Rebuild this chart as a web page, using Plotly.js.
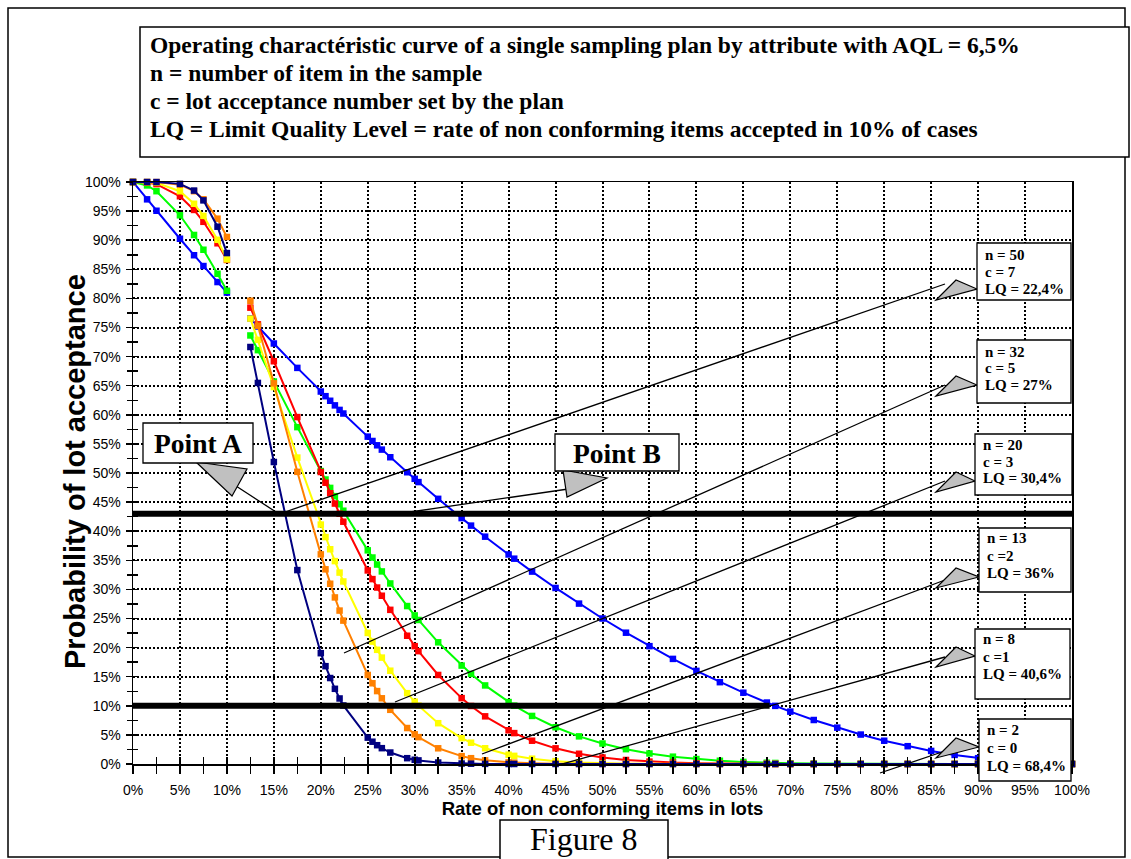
<!DOCTYPE html>
<html><head><meta charset="utf-8">
<script src="https://cdn.plot.ly/plotly-3.0.1.min.js"></script>
<style>html,body{margin:0;padding:0;background:#fff}#chart{width:1131px;height:859px}</style>
</head><body><div id="chart"></div>
<script>
// Rate of non conforming items in lots (%) – x values (11 is an empty row: gap in the curves)
const rates = [0,1.5,2.5,5,6.5,7.5,9,10,11,12.5,13.3,15,17.5,20,20.5,21,21.5,22,22.4,25,25.5,26,26.5,27.4,29.2,30,30.4,32.5,35,36,37.5,40,40.6,42.5,45,47.5,50,52.5,55,57.5,60,62.5,65,67.5,68.4,70,72.5,75,77.5,80,82.5,85,87.5,90,92.5,95,97.5,100];

// Probability of lot acceptance (%) for each plan
const planN2C0 = [100,97.02,95.06,90.25,87.42,85.56,82.81,81,null,76.56,75.17,72.25,68.06,64,63.2,62.41,61.62,60.84,60.22,56.25,55.5,54.76,54.02,52.71,50.13,49,48.44,45.56,42.25,40.96,39.06,36,35.28,33.06,30.25,27.56,25,22.56,20.25,18.06,16,14.06,12.25,10.56,9.99,9,7.56,6.25,5.06,4,3.06,2.25,1.56,1,0.56,0.25,0.06,0];
const planN8C1 = [100,99.41,98.42,94.28,90.9,88.36,84.23,81.31,null,73.63,71.11,65.72,57.88,50.33,48.88,47.44,46.02,44.62,43.52,36.71,35.48,34.27,33.09,31.02,27.14,25.53,24.75,20.91,16.91,15.48,13.5,10.64,10.03,8.26,6.32,4.75,3.52,2.55,1.81,1.26,0.85,0.56,0.36,0.22,0.18,0.13,0.07,0.04,0.02,0.01,0,0,0,0,0,0,0,0];
const planN13C2 = [100,99.91,99.63,97.55,95.2,93.16,89.47,86.61,null,78.41,75.54,69.2,59.61,50.17,48.33,46.53,44.75,43.0,41.63,33.26,31.77,30.32,28.91,26.49,22.04,20.25,19.39,15.3,11.32,9.97,8.19,5.79,5.31,4.0,2.69,1.76,1.12,0.69,0.41,0.24,0.13,0.07,0.03,0.02,0.01,0.01,0,0,0,0,0,0,0,0,0,0,0,0];
const planN20C3 = [100,99.98,99.86,98.41,96.26,94.18,90.07,86.7,null,76.53,72.88,64.77,52.65,41.14,38.99,36.9,34.86,32.89,31.36,22.52,21.03,19.62,18.28,16.03,12.17,10.71,10.03,7.01,4.44,3.66,2.71,1.6,1.4,0.91,0.49,0.26,0.13,0.06,0.03,0.01,0,0,0,0,0,0,0,0,0,0,0,0,0,0,0,0,0,0];
const planN32C5 = [100,100,99.99,99.54,98.42,97.03,93.7,90.56,null,79.6,75.31,65.41,50.2,36.02,33.45,30.97,28.62,26.36,24.64,15.3,13.87,12.53,11.29,9.31,6.18,5.1,4.62,2.7,1.35,1.0,0.63,0.28,0.23,0.12,0.04,0.01,0,0,0,0,0,0,0,0,0,0,0,0,0,0,0,0,0,0,0,0,0,0];
const planN50C7 = [100,100,99.99,99.68,98.53,96.84,92.32,87.79,null,71.65,65.48,51.89,33.32,19.04,16.81,14.77,12.92,11.26,10.06,4.53,3.83,3.23,2.72,1.97,1.0,0.73,0.62,0.25,0.08,0.05,0.02,0,0,0,0,0,0,0,0,0,0,0,0,0,0,0,0,0,0,0,0,0,0,0,0,0,0,0];

// Reference levels (Point A / Point B level, and 10% LQ level)
const pointLevelX = [0, 100];
const pointLevelY = [43, 43];
const lqLevelX = [0, 67.8];
const lqLevelY = [10, 10];

// Tick labels
const pctTicks = [0,5,10,15,20,25,30,35,40,45,50,55,60,65,70,75,80,85,90,95,100];
const pctLabels = pctTicks.map(v => v + '%');

// Plan labels
const planLabels = [
  ['n = 50','c = 7','LQ = 22,4%'],
  ['n = 32','c = 5','LQ = 27%'],
  ['n = 20','c = 3','LQ = 30,4%'],
  ['n = 13','c =2','LQ = 36%'],
  ['n = 8','c =1','LQ = 40,6%'],
  ['n = 2','c = 0','LQ = 68,4%']
];
const headerLines = [
  'Operating charactéristic curve of a single sampling plan by attribute with AQL = 6,5%',
  'n = number of item in the sample',
  'c = lot acceptance number set by the plan',
  'LQ = Limit Quality Level = rate of non conforming items accepted in 10% of cases'
];
const yTitle = 'Probability of lot acceptance';
const xTitle = 'Rate of non conforming items in lots';

// ---- geometry helpers (pixel -> paper) ----
const L=133, R=1072, T=182, B=764;
const px = x => (x - L) / (R - L);
const py = y => (B - y) / (B - T);

const serif = 'Liberation Serif, Times New Roman, serif';
const sans = 'Liberation Sans, Arial, sans-serif';

const series = [
  {y: planN2C0, c: '#0000FF', name: 'n=2 c=0'},
  {y: planN8C1, c: '#00FF00', name: 'n=8 c=1'},
  {y: planN13C2, c: '#FF0000', name: 'n=13 c=2'},
  {y: planN20C3, c: '#FFFF00', name: 'n=20 c=3'},
  {y: planN32C5, c: '#FF8000', name: 'n=32 c=5'},
  {y: planN50C7, c: '#000080', name: 'n=50 c=7'}
];

const traces = series.map(s => ({
  type: 'scatter', mode: 'lines+markers', name: s.name,
  x: rates, y: s.y, connectgaps: false, cliponaxis: false,
  line: {color: s.c, width: 2},
  marker: {symbol: 'square', size: 6.5, color: s.c, line: {width: 0}},
  hoverinfo: 'x+y'
}));
traces.push({type:'scatter', mode:'lines', x: pointLevelX, y: pointLevelY, xaxis:'x2', yaxis:'y2',
  line:{color:'#000', width:6}, hoverinfo:'skip', cliponaxis:false});
traces.push({type:'scatter', mode:'lines', x: lqLevelX, y: lqLevelY, xaxis:'x2', yaxis:'y2',
  line:{color:'#000', width:6}, hoverinfo:'skip', cliponaxis:false});

const shapes = [];
const annotations = [];
function rect(x0,y0,x1,y1,opt){ shapes.push(Object.assign({type:'rect', xref:'paper', yref:'paper',
  x0:px(x0), y0:py(y0), x1:px(x1), y1:py(y1), line:{color:'#000', width:1.3}, fillcolor:'#fff', layer:'above'}, opt||{})); }
function seg(x0,y0,x1,y1,w){ shapes.push({type:'line', xref:'paper', yref:'paper',
  x0:px(x0), y0:py(y0), x1:px(x1), y1:py(y1), line:{color:'#000', width:w||1.3}, layer:'above'}); }
function tri(pts){ shapes.push({type:'path', xref:'paper', yref:'paper', layer:'above',
  path: 'M' + pts.map(p => px(p[0]) + ',' + py(p[1])).join(' L') + ' Z',
  fillcolor:'#C0C0C0', line:{color:'#000', width:1.2}}); }
function txt(x,y,t,size,font,opt){ annotations.push(Object.assign({xref:'paper', yref:'paper', x:px(x), y:py(y),
  text:t, showarrow:false, xanchor:'left', yanchor:'middle', font:{family:font, size:size, color:'#000'}}, opt||{})); }

// outer frame
rect(8, 8, 1125, 857, {fillcolor:'rgba(0,0,0,0)', line:{color:'#000', width:1.5}, layer:'below'});
// header box
rect(140, 27, 1129, 157, {line:{color:'#000', width:1.5}});
const headerY = [45, 73, 101, 129];
headerLines.forEach((t,i) => txt(148, headerY[i], '<b>' + t + '</b>', 23.5, serif));

// y axis title (rotated)
txt(75, 472, '<b>' + yTitle + '</b>', 29, sans, {xanchor:'center', textangle:-90});

// callout lines
seg(410,512, 582,487);   // Point B
seg(276,512, 236,486);   // Point A
seg(285,512, 945,284);   // n=50
seg(344,653, 945,385);   // n=32
seg(395,702, 945,481);   // n=20
seg(482,754, 945,580);   // n=13
seg(555,766, 945,657);   // n=8
seg(880,773, 945,751);   // n=2

// plan boxes
const boxes = [
  [977,243,1071,300, 983, [255,272,289]],
  [977,340,1071,403, 983, [352,368,385]],
  [975,434,1072,495, 981, [445,462,478]],
  [979,528,1071,592, 985, [538,556,573]],
  [975,629,1070,699, 981, [639,657,674]],
  [979,719,1071,781, 985, [730,748,766]]
];
const triY = [289, 385, 481, 577, 656, 747];
boxes.forEach((b,i) => {
  const ty = triY[i];
  tri([[936, ty+11], [956, ty-9], [b[0], ty]]);
  rect(b[0], b[1], b[2], b[3]);
  planLabels[i].forEach((t,j) => txt(b[4], b[5][j], '<b>' + t + '</b>', 15, serif));
});

// Point A / Point B
tri([[196,462],[247,469],[232,496]]);
rect(143, 423, 253, 463);
txt(198, 443, '<b>Point A</b>', 27.5, serif, {xanchor:'center'});
tri([[563,470],[607,478],[567,497]]);
rect(555, 434, 679, 471);
txt(617, 453, '<b>Point B</b>', 27.5, serif, {xanchor:'center'});

// Figure 8 box
rect(500, 820, 668, 880, {line:{color:'#000', width:1.5}});
txt(584, 858.5, 'Figure 8', 32, serif, {xanchor:'center', yanchor:'bottom'});

const axCommon = {
  range:[0,100], autorange:false, fixedrange:true, zeroline:false,
  tickmode:'array', tickvals: pctTicks, ticktext: pctLabels,
  tickfont:{family:sans, size:14, color:'#000'}, tickcolor:'#000'
};

const layout = {
  width:1131, height:859,
  margin:{l:L, r:1131-R, t:T, b:859-B, pad:0},
  paper_bgcolor:'#fff', plot_bgcolor:'#fff',
  showlegend:false,
  xaxis: Object.assign({}, axCommon, {
    showline:true, linecolor:'#000', linewidth:1.5, mirror:true,
    showgrid:true, gridcolor:'#000', gridwidth:2, griddash:'2px,2px',
    ticks:'outside', ticklen:8, tickwidth:2, ticklabelstandoff:5,
    minor:{dtick:2.5, tick0:0, ticks:'outside', ticklen:8, tickwidth:1.5, tickcolor:'#000', showgrid:false},
    title:{text:'<b>' + xTitle + '</b>', font:{family:sans, size:18.5, color:'#000'}, standoff:0}
  }),
  yaxis: Object.assign({}, axCommon, {
    showline:true, linecolor:'#000', linewidth:1.5, mirror:true,
    showgrid:true, gridcolor:'#000', gridwidth:2, griddash:'2px,2px',
    ticks:'outside', ticklen:6, tickwidth:1.5, ticklabelstandoff:2,
    minor:{dtick:2.5, tick0:0, ticks:'outside', ticklen:5, tickwidth:1.5, tickcolor:'#000', showgrid:false}
  }),
  xaxis2: {overlaying:'x', anchor:'y2', side:'bottom', range:[0,100], autorange:false, fixedrange:true,
    showgrid:false, zeroline:false, showline:false, showticklabels:false,
    tickmode:'linear', tick0:0, dtick:5, ticks:'inside', ticklen:7, tickwidth:2, tickcolor:'#000',
    minor:{dtick:2.5, tick0:0, ticks:'inside', ticklen:7, tickwidth:1.5, tickcolor:'#000'}},
  yaxis2: {overlaying:'y', anchor:'x2', side:'left', range:[0,100], autorange:false, fixedrange:true,
    showgrid:false, zeroline:false, showline:false, showticklabels:false,
    tickmode:'linear', tick0:0, dtick:5, ticks:'inside', ticklen:5, tickwidth:1.5, tickcolor:'#000',
    minor:{dtick:2.5, tick0:0, ticks:'inside', ticklen:5, tickwidth:1.5, tickcolor:'#000'}},
  shapes: shapes,
  annotations: annotations
};

Plotly.newPlot('chart', traces, layout, {staticPlot:true, displayModeBar:false});
</script></body></html>
